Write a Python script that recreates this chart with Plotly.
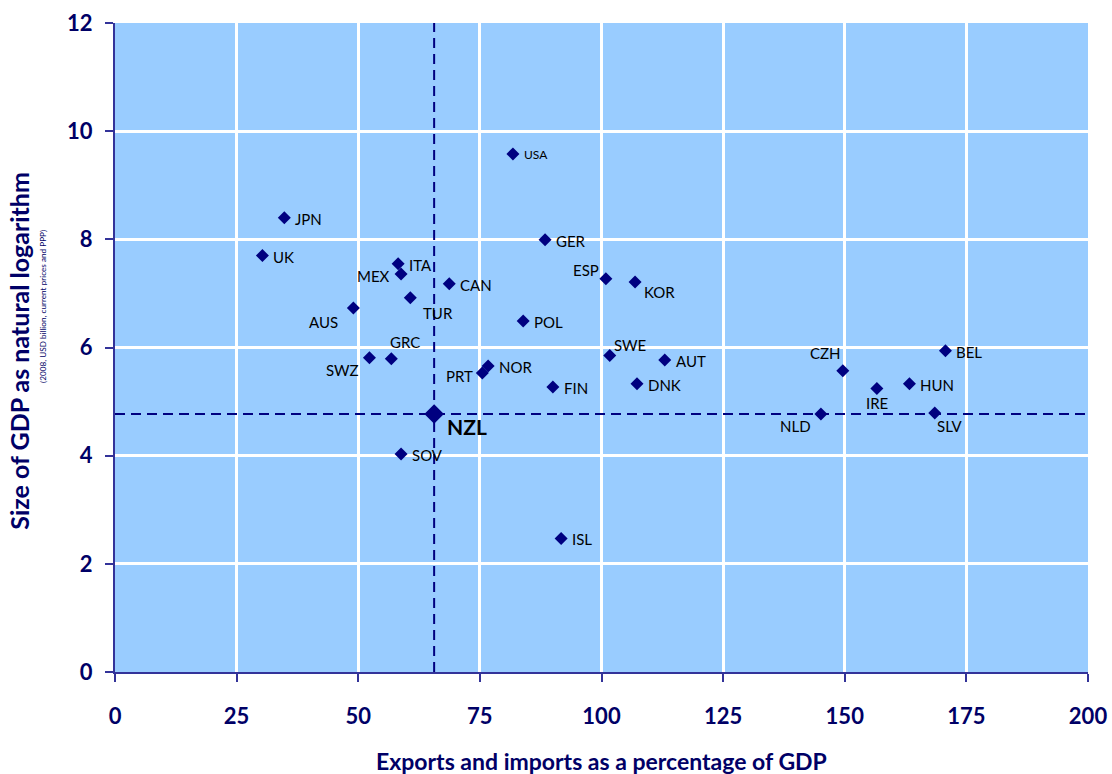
import plotly.graph_objects as go

countries = ["JPN", "UK", "ITA", "MEX", "CAN", "TUR", "AUS", "GRC", "SWZ", "PRT", "NOR",
             "SOV", "ISL", "USA", "GER", "ESP", "KOR", "POL", "SWE", "AUT", "DNK", "FIN",
             "CZH", "BEL", "HUN", "IRE", "NLD", "SLV"]
trade_pct = [34.8, 30.3, 58.2, 58.8, 68.7, 60.7, 49.0, 56.8, 52.3, 75.5, 76.7,
             58.8, 91.7, 81.8, 88.4, 100.9, 106.9, 83.9, 101.7, 113.0, 107.3, 90.0,
             149.6, 170.7, 163.3, 156.6, 145.1, 168.5]
log_gdp = [8.40, 7.70, 7.55, 7.36, 7.18, 6.92, 6.73, 5.79, 5.81, 5.53, 5.66,
           4.03, 2.47, 9.58, 7.99, 7.27, 7.21, 6.49, 5.85, 5.77, 5.33, 5.27,
           5.57, 5.94, 5.33, 5.24, 4.77, 4.79]

nzl_name = "NZL"
nzl_trade = 65.6
nzl_gdp = 4.77

x_ticks = [0, 25, 50, 75, 100, 125, 150, 175, 200]
y_ticks = [0, 2, 4, 6, 8, 10, 12]

x_title = "Exports and imports as a percentage of GDP"
y_title = "Size of GDP as natural logarithm"
y_subtitle = "(2008, USD billion, current prices and PPP)"

# label placement (style): (xanchor, yanchor, xshift, yshift)
label_pos = {
    "MEX": ("right", "middle", -9, -2),
    "TUR": ("left", "middle", 11, -15),
    "AUS": ("right", "middle", -13, -14),
    "GRC": ("center", "middle", 14, 17),
    "SWZ": ("right", "middle", -8, -12),
    "PRT": ("right", "middle", -7, -3),
    "ESP": ("right", "middle", -5, 9),
    "KOR": ("left", "middle", 7, -10),
    "SWE": ("left", "middle", 2, 11),
    "CZH": ("right", "middle", 0, 18),
    "IRE": ("center", "middle", 0, -14),
    "NLD": ("right", "middle", -8, -12),
    "SLV": ("left", "middle", 0, -13),
}

NAVY = "#000080"
AXIS = "#333399"
TICKFONT = "#000066"
FONT = "Lato"

fig = go.Figure()
fig.add_trace(go.Scatter(
    x=trade_pct, y=log_gdp, mode="markers",
    marker=dict(symbol="diamond", size=10, color=NAVY),
    hoverinfo="text", text=countries, showlegend=False,
))
fig.add_trace(go.Scatter(
    x=[nzl_trade], y=[nzl_gdp], mode="markers",
    marker=dict(symbol="diamond", size=15, color=NAVY),
    showlegend=False,
))

for name, xv, yv in zip(countries, trade_pct, log_gdp):
    xa, ya, xs, ys = label_pos.get(name, ("left", "middle", 9, -1))
    fsize = 12 if name == "USA" else 15
    fig.add_annotation(x=xv, y=yv, text=name, showarrow=False,
                       xanchor=xa, yanchor=ya, xshift=xs, yshift=ys,
                       font=dict(family=FONT, size=fsize, color="#000000"))

fig.add_annotation(x=nzl_trade, y=nzl_gdp, text="<b>" + nzl_name + "</b>", showarrow=False,
                   xanchor="left", yanchor="middle", xshift=11, yshift=-12,
                   font=dict(family=FONT, size=21, color="#000000"))

fig.add_shape(type="line", xref="x", yref="paper", x0=nzl_trade, x1=nzl_trade, y0=0, y1=1,
              line=dict(color=NAVY, width=2, dash="10px,6px"))
fig.add_shape(type="line", xref="paper", yref="y", x0=0, x1=1, y0=nzl_gdp, y1=nzl_gdp,
              line=dict(color=NAVY, width=2, dash="10px,6px"))

axis_common = dict(
    showgrid=True, gridcolor="white", gridwidth=3,
    showline=True, linecolor=AXIS, linewidth=2,
    ticks="outside", ticklen=8, tickcolor=AXIS, tickwidth=2,
    zeroline=False, automargin=False,
    tickfont=dict(family=FONT, size=22, color=TICKFONT),
)

fig.update_xaxes(
    range=[0, 200], tickvals=x_ticks, ticktext=["<b>%d</b>" % v for v in x_ticks],
    ticklabelstandoff=16, **axis_common,
)
fig.update_yaxes(
    range=[0, 12], tickvals=y_ticks, ticktext=["<b>%d</b>" % v for v in y_ticks],
    ticklabelstandoff=8, **axis_common,
)

fig.add_annotation(xref="paper", yref="paper", x=0.5, y=-0.137, text="<b>" + x_title + "</b>",
                   showarrow=False, xanchor="center", yanchor="middle",
                   font=dict(family=FONT, size=23, color=TICKFONT))
fig.add_annotation(xref="paper", yref="paper", x=-0.0987, y=0.495, text="<b>" + y_title + "</b>",
                   showarrow=False, xanchor="center", yanchor="middle", textangle=-90,
                   font=dict(family=FONT, size=25, color=TICKFONT))
fig.add_annotation(xref="paper", yref="paper", x=-0.074, y=0.564, text=y_subtitle,
                   showarrow=False, xanchor="center", yanchor="middle", textangle=-90,
                   font=dict(family=FONT, size=8.2, color=TICKFONT))

fig.update_layout(
    width=1112, height=774,
    margin=dict(l=115, r=24, t=23, b=102),
    plot_bgcolor="#99CCFF", paper_bgcolor="white",
    font=dict(family=FONT),
)

fig.write_html("out.html", config={"displayModeBar": False},
               post_script="document.body.style.margin='0';")
